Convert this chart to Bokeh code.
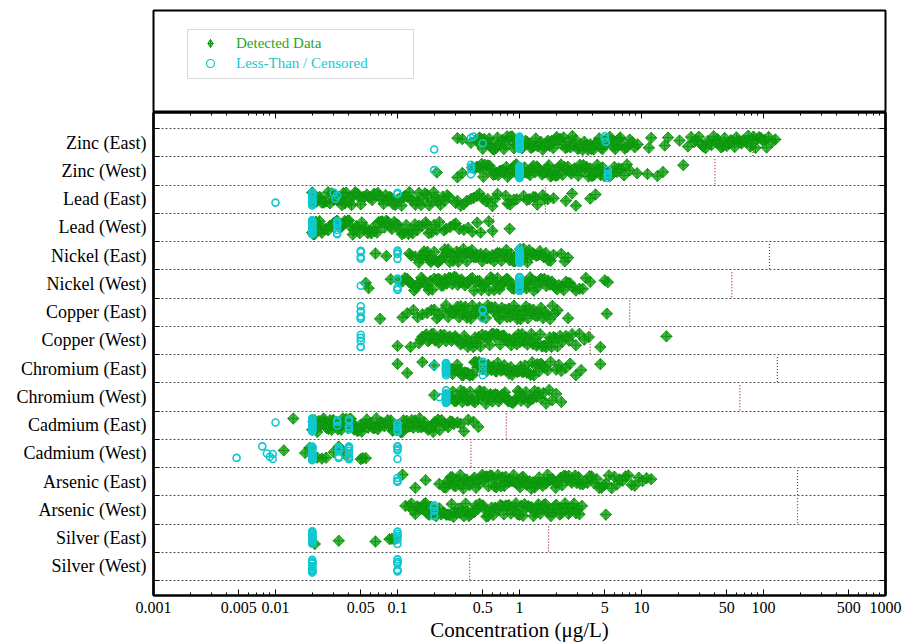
import math
from bokeh.plotting import figure
from bokeh.models import (ColumnDataSource, Range1d, FixedTicker, LinearAxis, LogAxis,
                          Legend, LegendItem, BoxAnnotation)
from bokeh.transform import jitter
from bokeh.layouts import column
from bokeh.embed import file_html
from bokeh.resources import INLINE

# ---------------- data ----------------
CATEGORIES = ["Zinc (East)", "Zinc (West)", "Lead (East)", "Lead (West)",
              "Nickel (East)", "Nickel (West)", "Copper (East)", "Copper (West)",
              "Chromium (East)", "Chromium (West)", "Cadmium (East)", "Cadmium (West)",
              "Arsenic (East)", "Arsenic (West)", "Silver (East)", "Silver (West)"]

# criterion (red dotted marker) for each category, ug/L
CRITERIA = [82, 40, 1.63, 0.61, 112, 55, 8.0, 3.8, 130, 64, 0.78, 0.40, 190, 190, 1.73, 0.39]

ZINC_E_DET = [0.31, 0.34, 0.4, 0.44, 0.455, 0.47, 0.485, 0.5, 0.515, 0.53, 0.55, 0.565, 0.58, 0.6, 0.62,
              0.64, 0.66, 0.685, 0.7, 0.72, 0.745, 0.77, 0.79, 0.82, 0.845, 0.87, 0.9, 0.93, 0.96, 0.99,
              1.02, 1.05, 1.09, 1.12, 1.16, 1.2, 1.24, 1.28, 1.32, 1.36, 1.41, 1.46, 1.5, 1.55, 1.6, 1.66,
              1.71, 1.77, 1.83, 1.89, 1.95, 2.02, 2.08, 2.15, 2.22, 2.3, 2.38, 2.46, 2.54, 2.62, 2.71, 2.8,
              2.9, 3.0, 3.1, 3.2, 3.3, 3.4, 3.55, 3.65, 3.8, 3.9, 4.05, 4.2, 4.35, 4.5, 4.65, 4.8, 5.0,
              5.15, 5.3, 5.5, 5.7, 5.9, 6.1, 6.3, 6.5, 6.7, 7.0, 7.3, 7.6, 8.0, 8.4, 8.8, 9.3, 11.5, 12.0,
              15.5, 16.5, 20.5, 24, 25.5, 27, 28, 29.5, 31, 32, 33.5, 35, 36, 37.5, 39, 40.5, 42, 43.5, 45,
              46.5, 48, 50, 52, 54, 56, 58, 60, 62, 64, 66, 68, 70, 73, 75, 78, 80, 83, 86, 89, 92, 95, 98,
              102, 106, 110, 118, 125]
ZINC_E_CEN = [0.2, 0.4, 0.42, 0.5] + [1.0] * 22 + [5.0, 5.0, 5.1]

ZINC_W_DET = [0.21, 0.31, 0.34, 0.41, 0.43, 0.445, 0.46, 0.475, 0.49, 0.505, 0.52, 0.535, 0.55, 0.57, 0.59,
              0.61, 0.63, 0.65, 0.67, 0.69, 0.71, 0.73, 0.755, 0.78, 0.8, 0.83, 0.855, 0.88, 0.91, 0.94,
              0.97, 1.0, 1.03, 1.07, 1.1, 1.14, 1.18, 1.22, 1.26, 1.3, 1.34, 1.39, 1.43, 1.48, 1.53, 1.58,
              1.63, 1.69, 1.74, 1.8, 1.86, 1.92, 1.98, 2.05, 2.12, 2.19, 2.26, 2.33, 2.41, 2.49, 2.57, 2.66,
              2.75, 2.84, 2.93, 3.03, 3.13, 3.23, 3.34, 3.45, 3.56, 3.68, 3.8, 3.93, 4.06, 4.2, 4.34, 4.48,
              4.63, 4.8, 4.95, 5.1, 5.3, 5.5, 5.7, 6.0, 6.3, 6.5, 6.8, 7.2, 7.6, 8.0, 9.2, 11.2, 13.5, 15, 22]
ZINC_W_CEN = [0.2, 0.4, 0.4, 0.4, 0.4] + [1.0] * 22 + [5.3] * 6

LEAD_E_DET = [0.02, 0.0205, 0.021, 0.0215, 0.022, 0.023, 0.0235, 0.024, 0.025, 0.026, 0.027, 0.028, 0.029,
              0.03, 0.031, 0.032, 0.033, 0.034, 0.035, 0.036, 0.037, 0.038, 0.04, 0.041, 0.042, 0.044,
              0.045, 0.047, 0.048, 0.05, 0.052, 0.054, 0.056, 0.058, 0.06, 0.062, 0.064, 0.066, 0.069,
              0.071, 0.074, 0.077, 0.08, 0.083, 0.086, 0.089, 0.092, 0.096, 0.1, 0.104, 0.108, 0.112, 0.116,
              0.12, 0.125, 0.13, 0.135, 0.14, 0.145, 0.15, 0.156, 0.162, 0.168, 0.175, 0.182, 0.19, 0.198,
              0.206, 0.215, 0.225, 0.235, 0.245, 0.255, 0.265, 0.3, 0.31, 0.33, 0.35, 0.37, 0.4, 0.42, 0.45,
              0.47, 0.5, 0.53, 0.55, 0.6, 0.63, 0.66, 0.77, 0.8, 0.84, 0.9, 0.95, 1.08, 1.15, 1.2, 1.3, 1.35,
              1.4, 1.55, 1.6, 1.7, 1.9, 2.4, 2.7, 2.9, 3.8, 4.2]
LEAD_E_CEN = [0.01] + [0.02] * 20 + [0.03, 0.031, 0.032, 0.1, 0.1]

LEAD_W_DET = [0.02, 0.0205, 0.021, 0.0215, 0.022, 0.023, 0.0235, 0.024, 0.025, 0.026, 0.027, 0.028, 0.029,
              0.03, 0.031, 0.032, 0.033, 0.034, 0.035, 0.036, 0.037, 0.039, 0.04, 0.041, 0.043, 0.044,
              0.046, 0.047, 0.049, 0.051, 0.053, 0.055, 0.057, 0.059, 0.061, 0.063, 0.065, 0.068, 0.07,
              0.073, 0.075, 0.078, 0.081, 0.084, 0.087, 0.09, 0.094, 0.097, 0.101, 0.105, 0.109, 0.113,
              0.118, 0.123, 0.128, 0.133, 0.139, 0.145, 0.15, 0.16, 0.17, 0.175, 0.18, 0.19, 0.2, 0.21,
              0.22, 0.24, 0.25, 0.27, 0.29, 0.3, 0.32, 0.35, 0.38, 0.41, 0.45, 0.48, 0.56, 0.6, 0.83]
LEAD_W_CEN = [0.02] * 20 + [0.032] * 8

NICKEL_E_DET = [0.066, 0.081, 0.125, 0.13, 0.14, 0.15, 0.155, 0.16, 0.165, 0.17, 0.176, 0.182, 0.188, 0.194,
                0.2, 0.207, 0.214, 0.221, 0.228, 0.236, 0.244, 0.252, 0.26, 0.268, 0.277, 0.286, 0.295,
                0.305, 0.315, 0.325, 0.336, 0.347, 0.358, 0.37, 0.382, 0.395, 0.408, 0.42, 0.435, 0.45,
                0.465, 0.48, 0.495, 0.51, 0.53, 0.545, 0.565, 0.58, 0.6, 0.62, 0.64, 0.66, 0.685, 0.71,
                0.73, 0.755, 0.78, 0.805, 0.83, 0.86, 0.89, 0.92, 0.95, 0.98, 1.01, 1.05, 1.08, 1.12, 1.16,
                1.2, 1.24, 1.28, 1.32, 1.37, 1.42, 1.47, 1.52, 1.58, 1.64, 1.72, 1.8, 1.9, 2.2, 2.35, 2.5]
NICKEL_E_CEN = [0.05] * 4 + [0.1] * 4 + [1.0] * 18

NICKEL_W_DET = [0.055, 0.058, 0.088, 0.102, 0.11, 0.115, 0.12, 0.124, 0.128, 0.132, 0.137, 0.142, 0.147,
                0.152, 0.157, 0.163, 0.168, 0.174, 0.18, 0.186, 0.193, 0.2, 0.207, 0.214, 0.221, 0.229,
                0.237, 0.245, 0.254, 0.263, 0.272, 0.281, 0.291, 0.301, 0.312, 0.323, 0.334, 0.345, 0.357,
                0.37, 0.383, 0.396, 0.41, 0.424, 0.439, 0.454, 0.47, 0.486, 0.503, 0.52, 0.54, 0.56, 0.58,
                0.6, 0.62, 0.64, 0.66, 0.685, 0.71, 0.735, 0.76, 0.785, 0.81, 0.84, 0.87, 0.9, 0.93, 0.965,
                1.0, 1.03, 1.07, 1.1, 1.14, 1.18, 1.22, 1.26, 1.31, 1.35, 1.4, 1.45, 1.5, 1.55, 1.6, 1.66,
                1.72, 1.78, 1.84, 1.9, 1.97, 2.04, 2.1, 2.2, 2.3, 2.4, 2.5, 2.6, 2.75, 2.9, 3.1, 3.3, 3.5,
                3.8, 5.0, 5.3]
NICKEL_W_CEN = [0.05] + [0.1] * 5 + [1.0] * 18

COPPER_E_DET = [0.072, 0.11, 0.12, 0.135, 0.146, 0.16, 0.175, 0.19, 0.2, 0.21, 0.22, 0.235, 0.25, 0.26, 0.27,
                0.28, 0.29, 0.3, 0.31, 0.32, 0.33, 0.34, 0.35, 0.36, 0.37, 0.385, 0.4, 0.41, 0.425, 0.44,
                0.455, 0.47, 0.485, 0.5, 0.515, 0.53, 0.55, 0.57, 0.59, 0.61, 0.63, 0.65, 0.67, 0.69, 0.715,
                0.74, 0.765, 0.79, 0.815, 0.84, 0.87, 0.9, 0.93, 0.96, 0.99, 1.02, 1.06, 1.1, 1.13, 1.17,
                1.21, 1.25, 1.3, 1.35, 1.4, 1.45, 1.5, 1.56, 1.62, 1.7, 1.78, 1.86, 1.95, 2.05, 2.5, 5.2]
COPPER_E_CEN = [0.05] * 6 + [0.5, 0.5, 0.5]

COPPER_W_DET = [0.1, 0.128, 0.15, 0.155, 0.16, 0.166, 0.172, 0.178, 0.184, 0.19, 0.197, 0.204, 0.211, 0.218,
                0.226, 0.234, 0.242, 0.25, 0.259, 0.268, 0.277, 0.287, 0.297, 0.307, 0.318, 0.329, 0.34,
                0.352, 0.364, 0.377, 0.39, 0.404, 0.418, 0.432, 0.447, 0.463, 0.479, 0.495, 0.512, 0.53,
                0.55, 0.57, 0.59, 0.61, 0.63, 0.65, 0.67, 0.695, 0.72, 0.745, 0.77, 0.8, 0.825, 0.855,
                0.885, 0.915, 0.95, 0.98, 1.01, 1.05, 1.09, 1.12, 1.16, 1.2, 1.25, 1.29, 1.34, 1.38, 1.43,
                1.48, 1.53, 1.59, 1.65, 1.7, 1.77, 1.83, 1.9, 1.97, 2.05, 2.15, 2.25, 2.4, 2.55, 2.7, 2.9,
                3.1, 3.4, 3.7, 4.6, 16]
COPPER_W_CEN = [0.05] * 5

CHROM_E_DET = [0.1, 0.12, 0.16, 0.2, 0.26, 0.267, 0.275, 0.283, 0.291, 0.3, 0.309, 0.318, 0.327, 0.337, 0.347,
               0.357, 0.368, 0.379, 0.39, 0.402, 0.414, 0.426, 0.439, 0.452, 0.465, 0.48, 0.494, 0.51, 0.525,
               0.54, 0.555, 0.575, 0.59, 0.61, 0.63, 0.645, 0.665, 0.685, 0.705, 0.73, 0.75, 0.775, 0.8,
               0.82, 0.85, 0.87, 0.9, 0.93, 0.96, 0.99, 1.02, 1.05, 1.08, 1.11, 1.15, 1.19, 1.23, 1.27,
               1.31, 1.35, 1.4, 1.45, 1.5, 1.55, 1.62, 1.7, 1.8, 2.0, 2.1, 2.2, 2.4, 2.6, 2.9, 3.2, 4.6]
CHROM_E_CEN = [0.2] + [0.25] * 18 + [0.5] * 5

CHROM_W_DET = [0.2, 0.26, 0.268, 0.276, 0.284, 0.293, 0.302, 0.311, 0.32, 0.33, 0.34, 0.35, 0.36, 0.371,
               0.382, 0.394, 0.406, 0.418, 0.43, 0.443, 0.456, 0.47, 0.484, 0.5, 0.515, 0.53, 0.545, 0.56,
               0.58, 0.6, 0.615, 0.635, 0.655, 0.675, 0.695, 0.715, 0.74, 0.76, 0.785, 0.81, 0.835, 0.86,
               0.885, 0.91, 0.94, 0.97, 1.0, 1.03, 1.06, 1.1, 1.13, 1.17, 1.21, 1.25, 1.29, 1.33, 1.38,
               1.43, 1.5, 1.57, 1.65, 1.75, 1.85, 2.0, 2.2]
CHROM_W_CEN = [0.22] + [0.25] * 18

CADM_E_DET = [0.014, 0.02, 0.0205, 0.021, 0.0215, 0.022, 0.0227, 0.0234, 0.0241, 0.0248, 0.0256, 0.0264,
              0.0272, 0.028, 0.0289, 0.0298, 0.0307, 0.0316, 0.0326, 0.0336, 0.0346, 0.0357, 0.0368, 0.0379,
              0.039, 0.0402, 0.0414, 0.0427, 0.044, 0.0453, 0.0467, 0.0481, 0.0496, 0.051, 0.0526, 0.054,
              0.056, 0.0575, 0.059, 0.061, 0.063, 0.065, 0.067, 0.069, 0.071, 0.073, 0.075, 0.078, 0.08,
              0.083, 0.085, 0.088, 0.091, 0.093, 0.096, 0.099, 0.102, 0.106, 0.109, 0.112, 0.116, 0.119,
              0.123, 0.127, 0.131, 0.135, 0.139, 0.143, 0.148, 0.152, 0.157, 0.162, 0.167, 0.172, 0.178,
              0.184, 0.19, 0.196, 0.202, 0.208, 0.215, 0.222, 0.23, 0.24, 0.25, 0.26, 0.27, 0.28, 0.29,
              0.31, 0.33, 0.35, 0.38, 0.42, 0.46]
CADM_E_CEN = [0.01] + [0.02] * 20 + [0.032] * 4 + [0.04] * 5 + [0.1] * 6

CADM_W_DET = [0.0117, 0.0175, 0.019, 0.022, 0.024, 0.026, 0.03, 0.033, 0.035, 0.038, 0.05, 0.052, 0.055]
CADM_W_CEN = [0.0048, 0.0078, 0.0085, 0.009, 0.0095, 0.0095] + [0.02] * 20 + [0.033] * 6 + [0.04] * 9 + [0.1] * 5

ARSEN_E_DET = [0.11, 0.14, 0.17, 0.22, 0.24, 0.25, 0.257, 0.265, 0.273, 0.281, 0.29, 0.299, 0.308, 0.317,
               0.327, 0.337, 0.347, 0.357, 0.368, 0.379, 0.39, 0.402, 0.414, 0.427, 0.44, 0.453, 0.467,
               0.481, 0.495, 0.51, 0.525, 0.54, 0.556, 0.573, 0.59, 0.61, 0.625, 0.645, 0.665, 0.685, 0.705,
               0.725, 0.75, 0.77, 0.795, 0.82, 0.845, 0.87, 0.895, 0.92, 0.95, 0.98, 1.01, 1.04, 1.07, 1.1,
               1.14, 1.17, 1.21, 1.25, 1.29, 1.33, 1.37, 1.41, 1.45, 1.5, 1.55, 1.6, 1.65, 1.7, 1.75, 1.8,
               1.86, 1.92, 1.98, 2.04, 2.1, 2.17, 2.24, 2.31, 2.38, 2.45, 2.53, 2.61, 2.69, 2.77, 2.86,
               2.95, 3.05, 3.15, 3.3, 3.45, 3.6, 3.75, 3.9, 4.1, 4.3, 4.5, 4.7, 4.9, 5.1, 5.4, 5.7, 6.0, 6.3,
               6.6, 7.0, 7.4, 7.8, 8.3, 8.8, 9.5, 10.2, 11, 12]
ARSEN_E_CEN = [0.1, 0.1, 0.1, 0.1]

ARSEN_W_DET = [0.116, 0.125, 0.13, 0.135, 0.14, 0.145, 0.15, 0.155, 0.16, 0.165, 0.17, 0.176, 0.182, 0.188,
               0.194, 0.2, 0.207, 0.214, 0.221, 0.228, 0.236, 0.244, 0.252, 0.26, 0.269, 0.278, 0.287,
               0.297, 0.307, 0.317, 0.328, 0.339, 0.35, 0.362, 0.374, 0.386, 0.399, 0.412, 0.426, 0.44,
               0.455, 0.47, 0.486, 0.502, 0.519, 0.536, 0.554, 0.572, 0.59, 0.61, 0.63, 0.65, 0.675, 0.695,
               0.72, 0.745, 0.77, 0.795, 0.82, 0.85, 0.875, 0.905, 0.935, 0.965, 1.0, 1.03, 1.07, 1.1,
               1.14, 1.18, 1.22, 1.26, 1.3, 1.34, 1.39, 1.43, 1.48, 1.53, 1.58, 1.63, 1.69, 1.75, 1.81,
               1.87, 1.93, 2.0, 2.07, 2.14, 2.21, 2.28, 2.36, 2.44, 2.52, 2.61, 2.7, 2.8, 2.9, 3.0, 3.1,
               3.25, 5.1]
ARSEN_W_CEN = [0.2] * 5

SILVER_E_DET = [0.021, 0.033, 0.066, 0.086, 0.09, 0.095]
SILVER_E_CEN = [0.02] * 16 + [0.1] * 7

SILVER_W_DET = []
SILVER_W_CEN = [0.02] * 18 + [0.1] * 7

DETECTED = [ZINC_E_DET, ZINC_W_DET, LEAD_E_DET, LEAD_W_DET, NICKEL_E_DET, NICKEL_W_DET,
            COPPER_E_DET, COPPER_W_DET, CHROM_E_DET, CHROM_W_DET, CADM_E_DET, CADM_W_DET,
            ARSEN_E_DET, ARSEN_W_DET, SILVER_E_DET, SILVER_W_DET]
CENSORED = [ZINC_E_CEN, ZINC_W_CEN, LEAD_E_CEN, LEAD_W_CEN, NICKEL_E_CEN, NICKEL_W_CEN,
            COPPER_E_CEN, COPPER_W_CEN, CHROM_E_CEN, CHROM_W_CEN, CADM_E_CEN, CADM_W_CEN,
            ARSEN_E_CEN, ARSEN_W_CEN, SILVER_E_CEN, SILVER_W_CEN]

X_TICKS = [0.001, 0.005, 0.01, 0.05, 0.1, 0.5, 1, 5, 10, 50, 100, 500, 1000]
X_TICK_LABELS = ["0.001", "0.005", "0.01", "0.05", "0.1", "0.5", "1", "5", "10", "50", "100", "500", "1000"]
DECADES = [0.001, 0.01, 0.1, 1, 10, 100, 1000]
LEGEND_LABELS = ["Detected Data", "Less-Than / Censored"]

# ---------------- build sources ----------------
n = len(CATEGORIES)
centers = [n - 0.5 - i for i in range(n)]
bounds = list(range(n + 1))

det = {"x": [], "y": []}
cen = {"x": [], "y": []}
for i in range(n):
    for v in DETECTED[i]:
        det["x"].append(v); det["y"].append(centers[i])
    for v in CENSORED[i]:
        cen["x"].append(v); cen["y"].append(centers[i])
crit = {"x": CRITERIA, "y0": [c - 0.47 for c in centers], "y1": [c + 0.47 for c in centers]}

GREEN_LINE = "#0d920d"
GREEN_FILL = "#0fa20f"
CYAN = "#10c8d0"
SERIF = "Liberation Serif"
JIT = 0.5
DET_STYLE = dict(marker="square_x", angle=math.pi / 4, size=8, line_color=GREEN_LINE, line_alpha=0.9,
                 fill_color=GREEN_FILL, fill_alpha=0.8, line_width=1)
CEN_STYLE = dict(marker="circle", size=7, line_color=CYAN, line_width=1.6, fill_color=None)

minor_x = [d * k for d in DECADES[:-1] for k in (2, 3, 4, 6, 7, 8, 9)]

# ---------------- main plot ----------------
p = figure(x_axis_type="log", x_range=Range1d(0.001, 1000), y_range=Range1d(-0.53, n + 0.57),
           frame_width=732, frame_height=483, min_border_left=153, min_border_right=18,
           min_border_top=0, min_border_bottom=0, output_backend="svg", toolbar_location=None)
p.outline_line_color = "black"
p.outline_line_width = 2

p.segment(x0="x", x1="x", y0="y0", y1="y1", source=ColumnDataSource(crit),
          line_color="#a82030", line_dash="1 2", line_width=1.2)

p.scatter(x="x", y=jitter("y", width=JIT), source=ColumnDataSource(det), **DET_STYLE)
p.scatter(x="x", y=jitter("y", width=JIT), source=ColumnDataSource(cen), **CEN_STYLE)

# bottom axis
xa = p.xaxis[0]
xa.ticker = FixedTicker(ticks=X_TICKS, minor_ticks=minor_x)
xa.major_label_overrides = {t: lab for t, lab in zip(X_TICKS, X_TICK_LABELS)}
xa.major_tick_in = 6
xa.major_tick_out = 0
xa.minor_tick_in = 3
xa.minor_tick_out = 0
xa.axis_line_width = 2
xa.major_label_text_font = SERIF
xa.major_label_text_font_size = "16px"
xa.major_label_text_color = "black"
xa.major_label_standoff = 6
xa.axis_label = "Concentration (\u03bcg/L)"
xa.axis_label_text_font = SERIF
xa.axis_label_text_font_size = "21px"
xa.axis_label_text_font_style = "normal"
xa.axis_label_text_color = "black"
xa.axis_label_standoff = 2

# left axis
ya = p.yaxis[0]
ya.ticker = FixedTicker(ticks=centers, minor_ticks=bounds)
ya.major_label_overrides = {c: lab for c, lab in zip(centers, CATEGORIES)}
ya.major_tick_in = 0
ya.major_tick_out = 0
ya.minor_tick_in = 6
ya.minor_tick_out = 0
ya.axis_line_width = 2.5
ya.major_label_text_font = SERIF
ya.major_label_text_font_size = "18px"
ya.major_label_text_color = "black"
ya.major_label_standoff = 7

p.xgrid.visible = False
p.ygrid.grid_line_color = None
p.ygrid.minor_grid_line_color = "#555555"
p.ygrid.minor_grid_line_dash = "2 2"
p.ygrid.minor_grid_line_width = 1

# right axis (ticks only)
ra = LinearAxis(ticker=FixedTicker(ticks=centers, minor_ticks=bounds))
ra.major_tick_in = 0
ra.major_tick_out = 0
ra.minor_tick_in = 6
ra.minor_tick_out = 0
ra.axis_line_width = 2.5
ra.major_label_text_font_size = "0px"
ra.major_label_text_color = None
ra.major_label_standoff = 0
p.add_layout(ra, "right")

# top axis (ticks only)
ta = LogAxis(ticker=FixedTicker(ticks=DECADES, minor_ticks=minor_x))
ta.major_tick_in = 6
ta.major_tick_out = 0
ta.minor_tick_in = 3
ta.minor_tick_out = 0
ta.axis_line_width = 2
ta.major_label_text_font_size = "0px"
ta.major_label_text_color = None
ta.major_label_standoff = 0
p.add_layout(ta, "above")

# ---------------- legend panel ----------------
top = figure(x_range=Range1d(0, 732), y_range=Range1d(0, 102), frame_width=732, frame_height=102,
             min_border_left=153, min_border_right=18, min_border_top=10, min_border_bottom=0,
             x_axis_location=None, y_axis_location=None, output_backend="svg", toolbar_location=None)
top.xgrid.visible = False
top.ygrid.visible = False
top.outline_line_color = "black"
top.outline_line_width = 2

nan = float("nan")
r_det = top.scatter(x=[nan], y=[nan], marker="diamond_cross", size=8, line_color=GREEN_LINE,
                    fill_color=GREEN_FILL, fill_alpha=0.5, line_width=1)
r_cen = top.scatter(x=[nan], y=[nan], marker="circle", size=7, line_color=CYAN, line_width=1.2,
                    fill_color=None)

top.add_layout(BoxAnnotation(left=34, right=260, bottom=34, top=83, fill_alpha=0,
                             line_color="#808080", line_width=1))

common = dict(orientation="vertical", padding=0, spacing=0, margin=0, glyph_width=36, glyph_height=20,
              label_height=20, label_standoff=8, label_text_font="Liberation Sans Narrow",
              label_text_font_size="15px", border_line_color=None, background_fill_alpha=0)
leg1 = Legend(items=[LegendItem(label=LEGEND_LABELS[0], renderers=[r_det])], location=(39, 59),
              label_text_color="#2aa52a", **common)
leg2 = Legend(items=[LegendItem(label=LEGEND_LABELS[1], renderers=[r_cen])], location=(39, 39),
              label_text_color="#1cc6d0", **common)
top.add_layout(leg1)
top.add_layout(leg2)

layout = column(top, p, spacing=0)
open("out.html", "w").write(file_html(layout, INLINE))
